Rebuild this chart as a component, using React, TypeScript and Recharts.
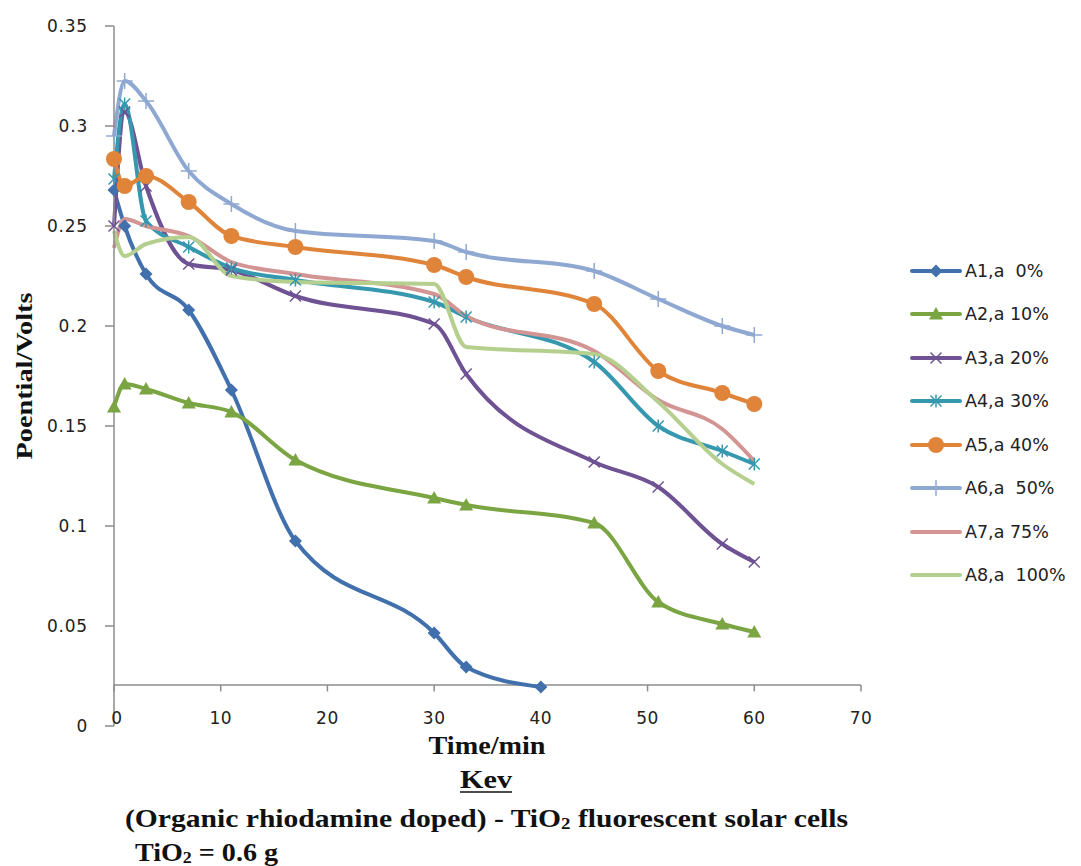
import React from 'react';
import { LineChart, Line, XAxis, YAxis, ReferenceLine } from 'recharts';

const TIME = [0, 1, 3, 7, 11, 17, 30, 33, 45, 51, 57, 60];
const A1_TIME = [0, 1, 3, 7, 11, 17, 30, 33, 40];
const A1 = [0.268, 0.25, 0.226, 0.208, 0.168, 0.0925, 0.0465, 0.0295, 0.0195];
const A2 = [0.1595, 0.171, 0.1685, 0.1615, 0.157, 0.133, 0.114, 0.1105, 0.1015, 0.062, 0.051, 0.047];
const A3 = [0.25, 0.307, 0.27, 0.231, 0.228, 0.215, 0.201, 0.176, 0.132, 0.1195, 0.091, 0.082];
const A4 = [0.2735, 0.311, 0.2525, 0.2395, 0.229, 0.223, 0.212, 0.2045, 0.182, 0.15, 0.1375, 0.131];
const A5 = [0.2835, 0.27, 0.275, 0.262, 0.245, 0.2395, 0.2305, 0.2245, 0.211, 0.1775, 0.1665, 0.161];
const A6 = [0.295, 0.3225, 0.3125, 0.2775, 0.261, 0.2475, 0.2425, 0.237, 0.2275, 0.2135, 0.2, 0.1955];
const A7 = [0.239, 0.2535, 0.25, 0.245, 0.232, 0.226, 0.216, 0.205, 0.1875, 0.163, 0.1485, 0.1325];
const A8 = [0.2475, 0.235, 0.241, 0.2445, 0.225, 0.222, 0.221, 0.1895, 0.186, 0.162, 0.131, 0.121];

const X_TICKS = [0, 10, 20, 30, 40, 50, 60, 70];
const Y_TICKS = [0, 0.05, 0.1, 0.15, 0.2, 0.25, 0.3, 0.35];
const X_AXIS_CROSS = 0.0205;
const X_TICK_DROP = 0.0032;

const SERIES = [
  { key: 'A1', name: 'A1,a  0%', times: A1_TIME, values: A1, color: '#4170AD', marker: 'diamond' },
  { key: 'A2', name: 'A2,a 10%', times: TIME, values: A2, color: '#7BA442', marker: 'triangle' },
  { key: 'A3', name: 'A3,a 20%', times: TIME, values: A3, color: '#6E5293', marker: 'x' },
  { key: 'A4', name: 'A4,a 30%', times: TIME, values: A4, color: '#3598AF', marker: 'star' },
  { key: 'A5', name: 'A5,a 40%', times: TIME, values: A5, color: '#E0843A', marker: 'circle' },
  { key: 'A6', name: 'A6,a  50%', times: TIME, values: A6, color: '#8FA8D2', marker: 'plus' },
  { key: 'A7', name: 'A7,a 75%', times: TIME, values: A7, color: '#D39594', marker: 'none' },
  { key: 'A8', name: 'A8,a  100%', times: TIME, values: A8, color: '#B4CF8E', marker: 'none' },
];

function Marker({ kind, cx, cy, color }: { kind: string; cx: number; cy: number; color: string }) {
  if (kind === 'diamond') {
    const s = 6.5;
    return <polygon points={`${cx},${cy - s} ${cx + s},${cy} ${cx},${cy + s} ${cx - s},${cy}`} fill={color} />;
  }
  if (kind === 'triangle') {
    const s = 7;
    return <polygon points={`${cx},${cy - s} ${cx + s},${cy + s * 0.8} ${cx - s},${cy + s * 0.8}`} fill={color} />;
  }
  if (kind === 'x') {
    const s = 5.5;
    return (
      <g stroke={color} strokeWidth={1.5}>
        <line x1={cx - s} y1={cy - s} x2={cx + s} y2={cy + s} />
        <line x1={cx - s} y1={cy + s} x2={cx + s} y2={cy - s} />
      </g>
    );
  }
  if (kind === 'star') {
    const s = 5.5;
    return (
      <g stroke={color} strokeWidth={1.5}>
        <line x1={cx - s} y1={cy - s} x2={cx + s} y2={cy + s} />
        <line x1={cx - s} y1={cy + s} x2={cx + s} y2={cy - s} />
        <line x1={cx} y1={cy - s - 1} x2={cx} y2={cy + s + 1} />
      </g>
    );
  }
  if (kind === 'circle') {
    return <circle cx={cx} cy={cy} r={8} fill={color} />;
  }
  if (kind === 'plus') {
    const s = 8;
    return (
      <g stroke={color} strokeWidth={1.5}>
        <line x1={cx - s} y1={cy} x2={cx + s} y2={cy} />
        <line x1={cx} y1={cy - s} x2={cx} y2={cy + s} />
      </g>
    );
  }
  return null;
}

const makeDot = (kind: string, color: string) => (props: any) => {
  const { cx, cy, index } = props;
  if (kind === 'none' || cx == null || cy == null) return <g key={`d-${index}`} />;
  return (
    <g key={`d-${index}`}>
      <Marker kind={kind} cx={cx} cy={cy} color={color} />
    </g>
  );
};

const XTick = (props: any) => {
  const { x, y, payload } = props;
  const isZero = payload.value === 0;
  return (
    <text
      x={x + (isZero ? 3 : 0)}
      y={y - 8}
      textAnchor="middle"
      dominantBaseline="central"
      fontFamily="DejaVu Sans"
      fontSize={17}
      letterSpacing={0.5}
      fill="#222"
    >
      {payload.value}
    </text>
  );
};

const LegendBox = () => (
  <div
    style={{
      position: 'absolute',
      left: 902,
      top: 241,
      width: 175,
      fontFamily: 'DejaVu Sans',
      fontSize: 17.5,
      color: '#222',
    }}
  >
    {SERIES.map((s) => (
      <div key={s.key} style={{ display: 'flex', alignItems: 'center', height: 43.5 }}>
        <svg width={52} height={22} style={{ flex: 'none' }}>
          <line x1={2} y1={11} x2={50} y2={11} stroke={s.color} strokeWidth={4} strokeLinecap="round" />
          <Marker kind={s.marker} cx={26} cy={11} color={s.color} />
        </svg>
        <span style={{ whiteSpace: 'pre', marginLeft: 3 }}>{s.name}</span>
      </div>
    ))}
  </div>
);

export default function App() {
  const W = 1073;
  const H = 858;
  return (
    <div style={{ position: 'relative', width: W, height: H }}>
      <LineChart width={W} height={H} margin={{ top: 18, right: 220, bottom: 110, left: 46 }}>
        <XAxis
          type="number"
          dataKey="t"
          domain={[0, 70]}
          ticks={X_TICKS}
          axisLine={false}
          tickLine={false}
          tickSize={0}
          tickMargin={0}
          height={30}
          tick={<XTick />}
          allowDuplicatedCategory={false}
        />
        <YAxis
          type="number"
          domain={[0, 0.35]}
          ticks={Y_TICKS}
          width={60}
          axisLine={{ stroke: '#8c8c8c', strokeWidth: 1.5 }}
          tickLine={{ stroke: '#8c8c8c', strokeWidth: 1.5 }}
          tickSize={9}
          tickMargin={17}
          tick={{ fontFamily: 'DejaVu Sans', fontSize: 17, fill: '#222', letterSpacing: 0.8 }}
          tickFormatter={(v: number) => String(v)}
        />
        <ReferenceLine y={X_AXIS_CROSS} stroke="#8c8c8c" strokeWidth={1.5} />
        {X_TICKS.map((t) => (
          <ReferenceLine
            key={`xt-${t}`}
            segment={[
              { x: t, y: X_AXIS_CROSS },
              { x: t, y: X_AXIS_CROSS - X_TICK_DROP },
            ]}
            stroke="#8c8c8c"
            strokeWidth={1.5}
          />
        ))}
        {SERIES.map((s) => (
          <Line
            key={s.key}
            name={s.name}
            data={s.times.map((t, i) => ({ t, v: s.values[i] }))}
            dataKey="v"
            type="monotone"
            stroke={s.color}
            strokeWidth={4}
            dot={makeDot(s.marker, s.color)}
            activeDot={false}
            isAnimationActive={false}
          />
        ))}
      </LineChart>
      <LegendBox />
      <svg
        width={W}
        height={H}
        style={{ position: 'absolute', left: 0, top: 0, pointerEvents: 'none' }}
        fontFamily="Liberation Serif"
        fontWeight="bold"
        fill="#111"
      >
        <text
          transform="translate(16,368) rotate(-90)"
          textAnchor="middle"
          dominantBaseline="central"
          fontSize={23}
          textLength={167}
          lengthAdjust="spacingAndGlyphs"
        >
          Poential/Volts
        </text>
        <text x={479} y={737} textAnchor="middle" dominantBaseline="central" fontSize={25} textLength={117} lengthAdjust="spacingAndGlyphs">
          Time/min
        </text>
        <text x={478} y={771} textAnchor="middle" dominantBaseline="central" fontSize={25} textLength={52} lengthAdjust="spacingAndGlyphs">
          Kev
        </text>
        <line x1={452} y1={784} x2={504} y2={784} stroke="#111" strokeWidth={1.5} />
        <text x={117} y={810} dominantBaseline="central" fontSize={25} textLength={723} lengthAdjust="spacingAndGlyphs">
          (Organic rhiodamine doped) - TiO<tspan fontSize={16} dy={5}>2</tspan><tspan dy={-5}> fluorescent solar cells</tspan>
        </text>
        <text x={127} y={844} dominantBaseline="central" fontSize={25} textLength={143} lengthAdjust="spacingAndGlyphs">
          TiO<tspan fontSize={16} dy={5}>2</tspan><tspan dy={-5}> = 0.6 g</tspan>
        </text>
      </svg>
    </div>
  );
}
